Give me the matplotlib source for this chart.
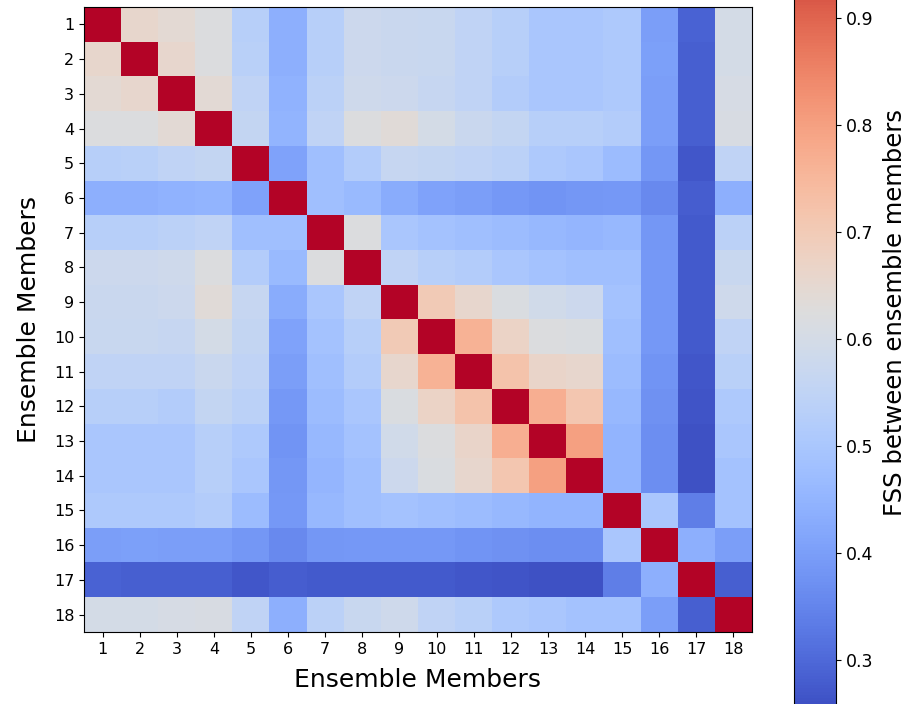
import numpy as np
import matplotlib
matplotlib.use("Agg")
import matplotlib.pyplot as plt

# FSS between each pair of ensemble members (symmetric, 1 on the diagonal)
members = [str(i) for i in range(1, 19)]
fss = [
    [1.00, 0.66, 0.645, 0.62, 0.53, 0.44, 0.53, 0.58, 0.575, 0.57, 0.55, 0.53, 0.50, 0.50, 0.51, 0.40, 0.29, 0.60],
    [0.66, 1.00, 0.655, 0.62, 0.535, 0.44, 0.53, 0.58, 0.575, 0.57, 0.55, 0.53, 0.50, 0.50, 0.51, 0.405, 0.285, 0.60],
    [0.645, 0.655, 1.00, 0.64, 0.55, 0.445, 0.54, 0.585, 0.58, 0.565, 0.55, 0.52, 0.50, 0.50, 0.51, 0.40, 0.285, 0.605],
    [0.62, 0.62, 0.64, 1.00, 0.56, 0.45, 0.55, 0.62, 0.635, 0.60, 0.575, 0.56, 0.53, 0.53, 0.52, 0.40, 0.285, 0.61],
    [0.53, 0.535, 0.55, 0.56, 1.00, 0.41, 0.48, 0.52, 0.565, 0.56, 0.55, 0.54, 0.51, 0.50, 0.47, 0.385, 0.27, 0.55],
    [0.44, 0.44, 0.445, 0.45, 0.41, 1.00, 0.48, 0.465, 0.43, 0.41, 0.40, 0.39, 0.38, 0.385, 0.39, 0.36, 0.28, 0.44],
    [0.53, 0.53, 0.54, 0.55, 0.48, 0.48, 1.00, 0.62, 0.50, 0.49, 0.48, 0.47, 0.46, 0.455, 0.46, 0.385, 0.275, 0.54],
    [0.58, 0.58, 0.585, 0.62, 0.52, 0.465, 0.62, 1.00, 0.55, 0.53, 0.52, 0.50, 0.49, 0.48, 0.48, 0.39, 0.275, 0.57],
    [0.575, 0.575, 0.58, 0.635, 0.565, 0.43, 0.50, 0.55, 1.00, 0.70, 0.655, 0.615, 0.59, 0.58, 0.49, 0.39, 0.275, 0.585],
    [0.57, 0.57, 0.565, 0.60, 0.56, 0.41, 0.49, 0.53, 0.70, 1.00, 0.76, 0.67, 0.62, 0.615, 0.48, 0.39, 0.275, 0.55],
    [0.55, 0.55, 0.55, 0.575, 0.55, 0.40, 0.48, 0.52, 0.655, 0.76, 1.00, 0.72, 0.665, 0.655, 0.47, 0.38, 0.27, 0.535],
    [0.53, 0.53, 0.52, 0.56, 0.54, 0.39, 0.47, 0.50, 0.615, 0.67, 0.72, 1.00, 0.77, 0.71, 0.46, 0.375, 0.265, 0.51],
    [0.50, 0.50, 0.50, 0.53, 0.51, 0.38, 0.46, 0.49, 0.59, 0.62, 0.665, 0.77, 1.00, 0.80, 0.45, 0.37, 0.26, 0.50],
    [0.50, 0.50, 0.50, 0.53, 0.50, 0.385, 0.455, 0.48, 0.58, 0.615, 0.655, 0.71, 0.80, 1.00, 0.45, 0.37, 0.26, 0.49],
    [0.51, 0.51, 0.51, 0.52, 0.47, 0.39, 0.46, 0.48, 0.49, 0.48, 0.47, 0.46, 0.45, 0.45, 1.00, 0.50, 0.34, 0.49],
    [0.40, 0.405, 0.40, 0.40, 0.385, 0.36, 0.385, 0.39, 0.39, 0.39, 0.38, 0.375, 0.37, 0.37, 0.50, 1.00, 0.44, 0.40],
    [0.29, 0.285, 0.285, 0.285, 0.27, 0.28, 0.275, 0.275, 0.275, 0.275, 0.27, 0.265, 0.26, 0.26, 0.34, 0.44, 1.00, 0.285],
    [0.60, 0.60, 0.605, 0.61, 0.55, 0.44, 0.54, 0.57, 0.585, 0.55, 0.535, 0.51, 0.50, 0.49, 0.49, 0.40, 0.285, 1.00],
]

VMIN, VMAX = 0.25, 1.0

fig = plt.figure(figsize=(9.09, 7.04), dpi=100)
ax = fig.add_axes([84 / 909, 72 / 704, 668 / 909, 625 / 704])
# colorbar runs past the figure edges (top and bottom get clipped)
cax = fig.add_axes([794 / 909, -9.5 / 704, 42 / 909, 802.5 / 704])

im = ax.imshow(np.array(fss), cmap="coolwarm", vmin=VMIN, vmax=VMAX,
               aspect="auto", interpolation="nearest")
ax.set_xticks(range(len(members)))
ax.set_xticklabels(members)
ax.set_yticks(range(len(members)))
ax.set_yticklabels(members)
ax.tick_params(labelsize=11.5)
ax.set_xlabel("Ensemble Members", fontsize=18, labelpad=8)
ax.set_ylabel("Ensemble Members", fontsize=18, labelpad=9)

cb = fig.colorbar(im, cax=cax)
cb.set_ticks([0.3, 0.4, 0.5, 0.6, 0.7, 0.8, 0.9])
cb.ax.tick_params(labelsize=12.5)
cb.set_label("FSS between ensemble members", fontsize=17.5, labelpad=7)

fig.savefig("out.png", dpi=100)
plt.close(fig)
